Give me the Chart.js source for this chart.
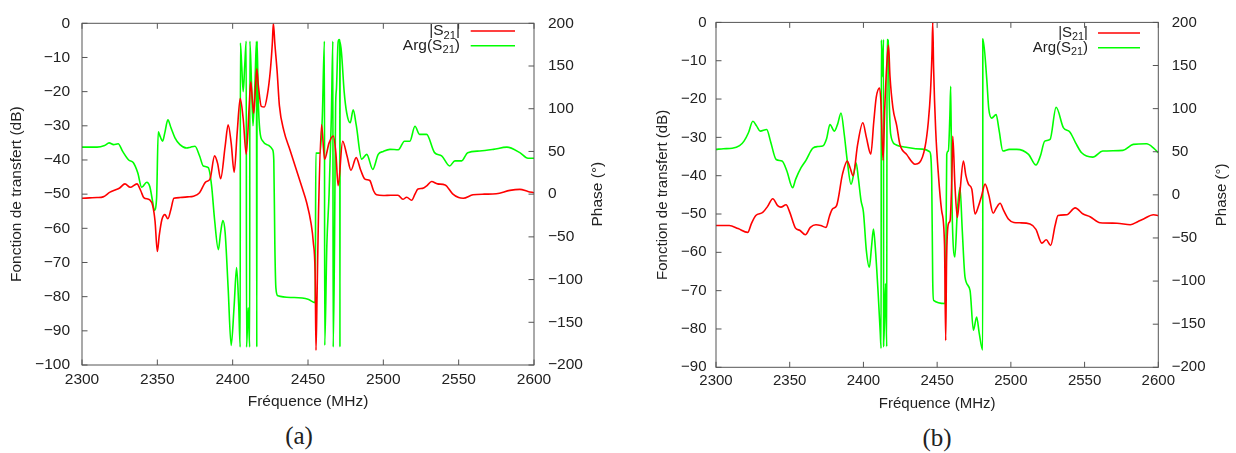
<!DOCTYPE html>
<html>
<head>
<meta charset="utf-8">
<script src="https://cdn.jsdelivr.net/npm/chart.js@4"></script>
<style>
  body { margin: 0; background: #fff; width: 1236px; height: 453px; position: relative; overflow: hidden; }
  canvas { position: absolute; top: 0; }
  #ca { left: 0; }
  #cb { left: 640px; }
  .cap { position: absolute; font-family: "Liberation Serif", "DejaVu Serif", serif; font-size: 25px; color: #222;
         transform: translate(-50%, -50%); line-height: 1; }
</style>
</head>
<body>
<canvas id="ca" width="620" height="420"></canvas>
<canvas id="cb" width="596" height="420"></canvas>
<div class="cap" style="left:299px;top:435px">(a)</div>
<div class="cap" style="left:937px;top:437px">(b)</div>
<script>
// axes
const xMin = 2300, xMax = 2600, xStep = 50;
const dbMax = 0, dbStep = 10, aDbMin = -100, bDbMin = -90;
const phaseMin = -200, phaseMax = 200, phaseStep = 50;
const seriesNames = ['|S21|', 'Arg(S21)'];
const xTitle = 'Fréquence (MHz)';
const yTitle = 'Fonction de transfert (dB)';
const y2Title = 'Phase (°)';

// (a) |S21| in dB
const aMagFreq = [2300, 2305, 2310, 2314, 2318.6, 2322, 2325, 2328.5, 2332, 2336.5, 2339, 2341, 2345, 2347, 2348.5,
  2350, 2351.3, 2353, 2355, 2357, 2359, 2361, 2365, 2370, 2374, 2378, 2382, 2385, 2388, 2390, 2392, 2395, 2397,
  2399, 2401, 2403, 2405, 2407, 2409, 2411, 2412, 2413, 2414, 2415, 2416, 2417, 2419, 2421, 2423, 2425, 2426.3,
  2427, 2428, 2429.5, 2431, 2434, 2438, 2442, 2446, 2449, 2452, 2453.5, 2454.8, 2455.3, 2456, 2457, 2459, 2461,
  2464, 2466.8, 2468.5, 2470, 2473, 2476, 2478.5, 2482, 2485, 2487.8, 2491, 2493.5, 2495.5, 2500, 2505, 2509.7,
  2513, 2515.5, 2518.8, 2521, 2523, 2526, 2529, 2532, 2536, 2541, 2546, 2550, 2553, 2559.5, 2567, 2575, 2584,
  2590.6, 2596, 2600];
const aMagDb = [-51.2, -51.1, -51.0, -50.8, -49.4, -48.8, -48.2, -47, -48, -47, -49, -51, -51.7, -53.5, -58,
  -66.8, -62, -57.5, -56, -57.2, -54.5, -51.2, -51, -50.8, -50.6, -49.6, -46.5, -45.5, -38.8, -41, -45.5, -36, -29.7,
  -35, -43.6, -32, -22, -28, -38.3, -24, -17.1, -22, -26.3, -20, -13.3, -18, -24.3, -24.5, -21, -13.8, -6,
  0, -6, -14, -24, -31.5, -37, -42.5, -48, -52.3, -58.5, -64, -75, -95.7, -80, -55, -29.7, -39.8,
  -35, -33, -38, -47.5, -34.5, -39, -43, -39.3, -43, -45.6, -46, -49, -50.2, -50.4, -50.3, -50.3,
  -51.5, -50.9, -51.8, -50, -48.5, -48.3, -47.5, -46.3, -47, -47.3, -49.9, -51, -51.2, -50.2, -50, -49.9, -48.9,
  -48.6, -49.2, -49.6];

// (a) Arg(S21) in degrees
const aPhaseFreq = [2300, 2310, 2315, 2318, 2321, 2324, 2327, 2331, 2334, 2337, 2339.6, 2343, 2345, 2347, 2348,
  2349.5, 2350.6, 2352, 2353.5, 2355, 2357, 2359, 2361.7, 2365, 2369.5, 2372, 2375, 2378, 2380.5, 2383.8, 2386,
  2388, 2390.5, 2392, 2393.5, 2395, 2397, 2399, 2401, 2402.6, 2404, 2405, 2405.1, 2406, 2407, 2408, 2409, 2409.2,
  2410.3, 2411.3, 2411.4, 2412.5, 2413.5, 2414.8, 2415.8, 2416, 2416.2, 2417, 2418, 2420, 2424, 2426.5, 2427.3,
  2428, 2428.7, 2430, 2440, 2450, 2454.8, 2455.2, 2458, 2459.5, 2460.9, 2461.1, 2462.5, 2464, 2465.5, 2466.5,
  2466.7, 2467.6, 2468.3, 2468.9, 2470, 2470.7, 2471.1, 2471.2, 2471.3, 2472.3, 2474, 2475.7, 2478, 2480, 2482,
  2485.6, 2489, 2493, 2496.6, 2500, 2504.4, 2510, 2514, 2517.6, 2521, 2524, 2528.7, 2534, 2538.7, 2544, 2547.5,
  2552, 2556, 2564, 2573, 2582, 2590.6, 2596, 2600];
const aPhaseDeg = [55, 55, 57, 60, 58, 59, 50, 40, 37, 25, 8, 14, 9, -10, -19,
  -5, 73, 67, 62, 72, 87, 78, 66, 58, 54, 55, 56, 45, 33, 31, 10,
  -30, -65, -45, -31, -45, -110, -177, -130, -86, -130, -179, 177, 150, 120, 150, 179, -179,
  -133, -179, 179, 130, 80, 130, 179, -179, 179, 110, 75, 62, 57, 52, 40,
  -60, -110, -119, -121, -123, -127, 48, 48, 90, 179, -177, -60, 0, 90, 179,
  -179, -60, 100, 124, 178, 181, 179, -179, 178, 164, 120, 95, 83.5, 98.6, 81,
  41, 46.6, 29, 46.6, 50, 52.4, 52, 62, 62, 79.4, 70, 70, 48.6, 44.8, 33, 39,
  39, 48.6, 50.5, 52.4, 55, 48.6, 42, 42];

// (b) |S21| in dB
const bMagFreq = [2300, 2309, 2315, 2321.5, 2324, 2327, 2331.7, 2335, 2338.5, 2341.8, 2344, 2347.5, 2350, 2353.8,
  2357, 2360.6, 2364, 2367.8, 2371, 2374.6, 2377, 2379, 2381.8, 2385.8, 2389, 2391, 2393, 2396, 2399.6, 2402,
  2405, 2407, 2408.7, 2411, 2412, 2413.3, 2414.5, 2416, 2417, 2418, 2420, 2422.6, 2424.7, 2429.4, 2435, 2438,
  2441.8, 2444, 2445.5, 2446.5, 2447, 2447.6, 2449, 2451, 2453, 2455, 2455.8, 2456.4, 2457.6, 2458.8, 2460,
  2460.6, 2462, 2463.7, 2465.5, 2467.8, 2469.5, 2471.2, 2473.5, 2475.7, 2478, 2480, 2482.5, 2485, 2488, 2490,
  2492.7, 2495, 2498.3, 2502, 2506, 2513, 2517, 2521, 2524, 2527, 2530, 2532, 2538, 2543.6, 2549, 2553.7,
  2560.5, 2572, 2581, 2586, 2590, 2596.7, 2600];
const bMagDb = [-53, -53, -53.8, -54.8, -52.5, -50.4, -49.6, -48, -46, -47.8, -48.2, -47.6, -49.5, -53.6,
  -54.3, -55.4, -53.5, -52.8, -53, -53.5, -50.5, -48.7, -47.8, -39.6, -36.2, -38, -40, -32, -26.2, -30,
  -34.4, -26, -19.5, -17.1, -22, -36, -22, -10, -6, -14, -22.3, -27, -31.8, -34.5, -37, -36.6,
  -32.5, -26, -18, -8, 0, -12, -28, -40.5, -49, -58, -83, -62, -52.6, -51.7, -40,
  -29.7, -42, -50.9, -44, -36.2, -40, -42.2, -43.5, -50, -48, -45.5, -42.2, -45, -49.8, -48.5,
  -47.2, -49, -51.3, -52.2, -52.3, -52.6, -54, -57.6, -56.7, -58.2, -53, -50.4, -50.2, -48.4, -50, -50.7,
  -52.3, -52.4, -52.8, -52, -51.3, -50.2, -50.4];

// (b) Arg(S21) in degrees
const bPhaseFreq = [2300, 2305, 2311, 2316, 2319, 2322, 2325, 2327.5, 2330, 2334.4, 2337, 2340.8, 2344.8, 2348,
  2352, 2354, 2357.7, 2361, 2365.6, 2369, 2372.4, 2375, 2377.3, 2380.3, 2382.5, 2384.8, 2387, 2389, 2391.6,
  2393.5, 2395, 2396.5, 2398.4, 2400, 2402, 2404, 2405.5, 2406.8, 2408, 2410, 2411.4, 2412, 2412.1, 2413,
  2413.6, 2413.7, 2415, 2415.8, 2416, 2416.8, 2417.5, 2418.5, 2421.5, 2430, 2440, 2445, 2446.3, 2447, 2447.6,
  2455.4, 2456, 2456.5, 2457.6, 2458.6, 2459.2, 2459.8, 2460.3, 2462, 2463.7, 2465.5, 2467, 2468.9, 2472.3,
  2474.6, 2476.8, 2478.5, 2480.9, 2481, 2483.6, 2485, 2487, 2490, 2492, 2494.6, 2499, 2504, 2512, 2517, 2520,
  2523, 2526.6, 2530.7, 2535.7, 2540, 2544, 2548, 2555.5, 2562.3, 2576, 2583, 2592, 2597, 2600];
const bPhaseDeg = [52.7, 53.5, 54, 57, 62.3, 72, 85.4, 80, 73.9, 75.8, 62, 41, 39.2, 28,
  8.4, 18, 31.5, 40, 54, 56, 56.6, 65, 81.6, 73.9, 82, 95, 70, 40, 12.3,
  25, 37.3, 20, -7, -20, -65, -84, -60, -39.6, -60, -114.6, -160, -178, 179.7, 137,
  180, -176, -103, -176, 180, 179, 110, 70, 58.5, 55, 53, 50, 20, -100, -122.3,
  -126, -60, 47, 51, 90, 125.8, 20, -30, -72, -18.5, 8.4, -40, -95.4, -110.8,
  -157, -141.6, -160, -180, 181, 135.4, 100, 89, 93, 75, 50.8, 52.7, 52.7, 47, 34.6, 45,
  62.3, 64.3, 101.6, 77.7, 73, 60, 48.8, 43.8, 50.8, 51.6, 58.5, 59.2, 54, 48.8];

const zip = (xs, ys) => xs.map((x, i) => ({ x: x, y: ys[i] }));
const minus = v => String(v).replace('-', '\u2212');
const textColor = '#222';
const frameColor = '#555';
const fontFamily = '"Liberation Sans", Arial, sans-serif';

// text with the digits drawn as subscripts, right-aligned at xr
function drawSub(ctx, text, xr, y, size) {
  const parts = text.split(/(\d+)/).filter(p => p.length);
  const big = size + 'px ' + fontFamily, small = (size * 0.72) + 'px ' + fontFamily;
  let w = 0;
  parts.forEach(p => { ctx.font = /\d/.test(p) ? small : big; w += ctx.measureText(p).width; });
  let x = xr - w;
  ctx.textAlign = 'left';
  ctx.textBaseline = 'middle';
  parts.forEach(p => {
    const sub = /\d/.test(p);
    ctx.font = sub ? small : big;
    ctx.fillText(p, x, sub ? y + size * 0.3 : y);
    x += ctx.measureText(p).width;
  });
}

const gnuplotLook = {
  id: 'gnuplotLook',
  afterDraw(chart) {
    const { ctx, chartArea: a, scales } = chart;
    const p = chart.options.plugins.gnuplotLook;
    const tl = 5.5;
    ctx.save();
    ctx.strokeStyle = frameColor;
    ctx.lineWidth = 1;
    ctx.beginPath();
    scales.x.ticks.forEach(t => {
      const px = scales.x.getPixelForValue(t.value);
      ctx.moveTo(px, a.bottom); ctx.lineTo(px, a.bottom - tl);
      ctx.moveTo(px, a.top); ctx.lineTo(px, a.top + tl);
    });
    scales.y.ticks.forEach(t => {
      const py = scales.y.getPixelForValue(t.value);
      ctx.moveTo(a.left, py); ctx.lineTo(a.left + tl, py);
    });
    scales.y2.ticks.forEach(t => {
      const py = scales.y2.getPixelForValue(t.value);
      ctx.moveTo(a.right, py); ctx.lineTo(a.right - tl, py);
    });
    ctx.stroke();
    ctx.strokeRect(a.left, a.top, a.right - a.left, a.bottom - a.top);

    // right axis title, read bottom to top
    ctx.fillStyle = textColor;
    ctx.font = p.font + 'px ' + fontFamily;
    ctx.translate(p.y2TitleX, (a.top + a.bottom) / 2);
    ctx.rotate(-Math.PI / 2);
    ctx.textAlign = 'center';
    ctx.textBaseline = 'middle';
    ctx.fillText(y2Title, 0, 0);
    ctx.setTransform(1, 0, 0, 1, 0, 0);

    // legend: text then line sample
    chart.data.datasets.forEach((ds, i) => {
      const y = p.legY[i];
      ctx.fillStyle = textColor;
      drawSub(ctx, ds.label, p.legText, y, p.font);
      ctx.strokeStyle = ds.borderColor;
      ctx.lineWidth = 1.6;
      ctx.beginPath();
      ctx.moveTo(p.legLine[0], y); ctx.lineTo(p.legLine[1], y);
      ctx.stroke();
    });
    ctx.restore();
  }
};

function makeChart(id, magF, magV, phF, phV, dbMin, L) {
  const tickFont = { family: fontFamily, size: L.font };
  return new Chart(document.getElementById(id), {
    type: 'line',
    data: {
      datasets: [
        { label: seriesNames[0], data: zip(magF, magV), borderColor: '#ff0000', borderWidth: 1.6,
          yAxisID: 'y', pointRadius: 0, cubicInterpolationMode: 'monotone', order: 0 },
        { label: seriesNames[1], data: zip(phF, phV), borderColor: '#00ff00', borderWidth: 1.6,
          yAxisID: 'y2', pointRadius: 0, cubicInterpolationMode: 'monotone', order: 1 }
      ]
    },
    options: {
      responsive: false,
      animation: false,
      layout: { padding: { top: L.padTop, left: 0, right: 0, bottom: 0 } },
      plugins: {
        legend: { display: false },
        tooltip: { enabled: false },
        gnuplotLook: L
      },
      scales: {
        x: {
          type: 'linear', min: xMin, max: xMax,
          ticks: { stepSize: xStep, autoSkip: false, maxRotation: 0, padding: L.xTickPad, color: textColor,
                   font: tickFont, callback: v => String(v) },
          grid: { display: false, drawTicks: false },
          border: { display: false },
          title: { display: true, text: xTitle, color: textColor, font: tickFont, padding: { top: 0, bottom: L.xTitlePad } },
          afterFit: s => { s.height = L.bottomH; }
        },
        y: {
          position: 'left', min: dbMin, max: dbMax,
          ticks: { stepSize: dbStep, padding: L.yTickPad, color: textColor, font: tickFont, callback: minus },
          grid: { display: false, drawTicks: false },
          border: { display: false },
          title: { display: true, text: yTitle, color: textColor, font: tickFont, padding: { top: L.yTitlePad, bottom: 0 } },
          afterFit: s => { s.width = L.leftW; }
        },
        y2: {
          position: 'right', min: phaseMin, max: phaseMax,
          ticks: { stepSize: phaseStep, padding: L.y2TickPad, color: textColor, font: tickFont, callback: minus },
          grid: { display: false, drawTicks: false },
          border: { display: false },
          afterFit: s => { s.width = L.rightW; }
        }
      }
    },
    plugins: [gnuplotLook]
  });
}

makeChart('ca', aMagFreq, aMagDb, aPhaseFreq, aPhaseDeg, aDbMin, {
  padTop: 19, leftW: 82, rightW: 86, bottomH: 55, font: 15.5,
  xTickPad: 5.7, xTitlePad: 8.7, yTickPad: 12, y2TickPad: 14, yTitlePad: 7.7, y2TitleX: 598,
  legText: 460, legLine: [470.7, 515], legY: [31, 45.7]
});
makeChart('cb', bMagFreq, bMagDb, bPhaseFreq, bPhaseDeg, bDbMin, {
  padTop: 20.7, leftW: 76, rightW: 77.7, bottomH: 52.7, font: 15,
  xTickPad: 5, xTitlePad: 7.4, yTickPad: 9.5, y2TickPad: 13.4, yTitlePad: 13.5, y2TitleX: 581.7,
  legText: 448, legLine: [458, 500], legY: [33, 47.7]
});
</script>
</body>
</html>
